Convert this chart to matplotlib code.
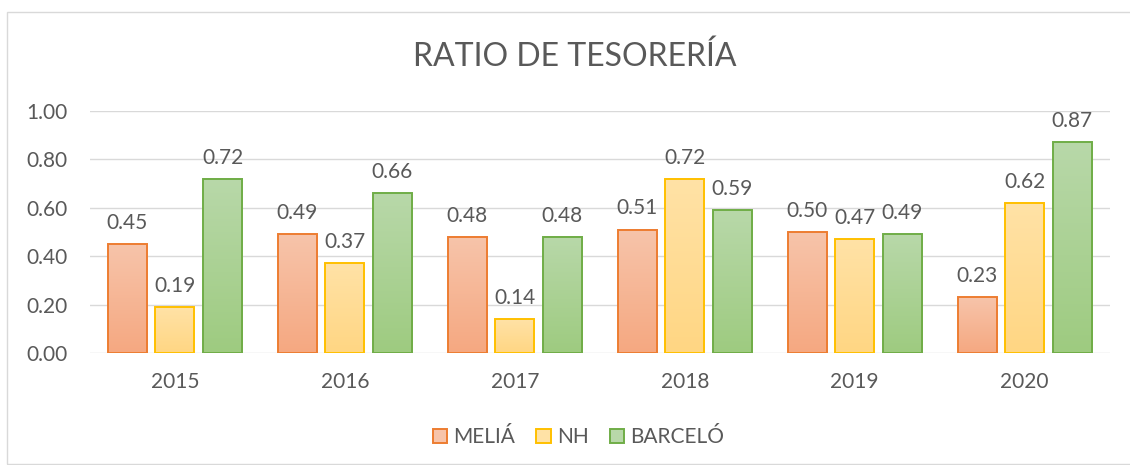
import numpy as np
import matplotlib
matplotlib.use("Agg")
import matplotlib.pyplot as plt
from matplotlib.colors import LinearSegmentedColormap
from matplotlib.patches import Rectangle, Patch

# data
years = ["2015", "2016", "2017", "2018", "2019", "2020"]
series = ["MELIÁ", "NH", "BARCELÓ"]
melia = [0.45, 0.49, 0.48, 0.51, 0.50, 0.23]
nh = [0.19, 0.37, 0.14, 0.72, 0.47, 0.62]
barcelo = [0.72, 0.66, 0.48, 0.59, 0.49, 0.87]

edge_colors = ["#ED7D31", "#FFC000", "#70AD47"]
top_colors = ["#F7C4AA", "#FFE2A6", "#B8D8A9"]
bottom_colors = ["#F5A881", "#FFD683", "#9ECB80"]

plt.rcParams["font.family"] = ["Lato", "DejaVu Sans"]
grey = "#595959"

fig = plt.figure(figsize=(11.3, 4.65), dpi=100)
ax = fig.add_axes([0.0796, 0.2409, 0.9024, 0.5204])

# chart frame
fig.patches.append(Rectangle((7 / 1130, 0.002), 1.1, (465 - 12) / 465 - 0.002,
                             transform=fig.transFigure, fill=False,
                             edgecolor="#D9D9D9", linewidth=1.0))

x = np.arange(len(years))
width = 0.23
offsets = [-0.28, 0.0, 0.28]
for i, vals in enumerate([melia, nh, barcelo]):
    cmap = LinearSegmentedColormap.from_list("g%d" % i, [bottom_colors[i], top_colors[i]])
    grad = np.linspace(1, 0, 100).reshape(-1, 1)
    for j, v in enumerate(vals):
        x0 = x[j] + offsets[i] - width / 2
        ax.imshow(grad, extent=[x0, x0 + width, 0, v], aspect="auto",
                  cmap=cmap, vmin=0, vmax=1, zorder=2, interpolation="bilinear")
        ax.add_patch(Rectangle((x0, 0), width, v, fill=False,
                               edgecolor=edge_colors[i], linewidth=1.4, zorder=3))
        ax.annotate("%.2f" % v, (x[j] + offsets[i], v), xytext=(0, 8),
                    textcoords="offset points", ha="center", va="bottom",
                    fontsize=15, color=grey)

ax.set_xlim(-0.5, len(years) - 0.5)
ax.set_ylim(0, 1.0)
ax.set_yticks(np.arange(0, 1.01, 0.2))
ax.set_yticklabels(["%.2f" % t for t in np.arange(0, 1.01, 0.2)])
ax.set_xticks(x)
ax.set_xticklabels(years)
ax.tick_params(axis="both", length=0, labelsize=15, labelcolor=grey)
ax.tick_params(axis="x", pad=14)
ax.tick_params(axis="y", pad=16)
ax.grid(axis="y", color="#D9D9D9", linewidth=1.0, zorder=0)
ax.set_axisbelow(True)
for s in ax.spines.values():
    s.set_visible(False)

fig.text(0.509, 0.877, "RATIO DE TESORERÍA", ha="center", va="center",
         fontsize=23, color=grey)

handles = [Patch(facecolor=top_colors[i], edgecolor=edge_colors[i], linewidth=1.4)
           for i in range(3)]
fig.legend(handles, series, loc="center", bbox_to_anchor=(0.512, 0.06), ncol=3,
           frameon=False, fontsize=15, labelcolor=grey, handlelength=0.7,
           handleheight=0.7, handletextpad=0.3, columnspacing=1.0)

fig.savefig("out.png", dpi=100)
